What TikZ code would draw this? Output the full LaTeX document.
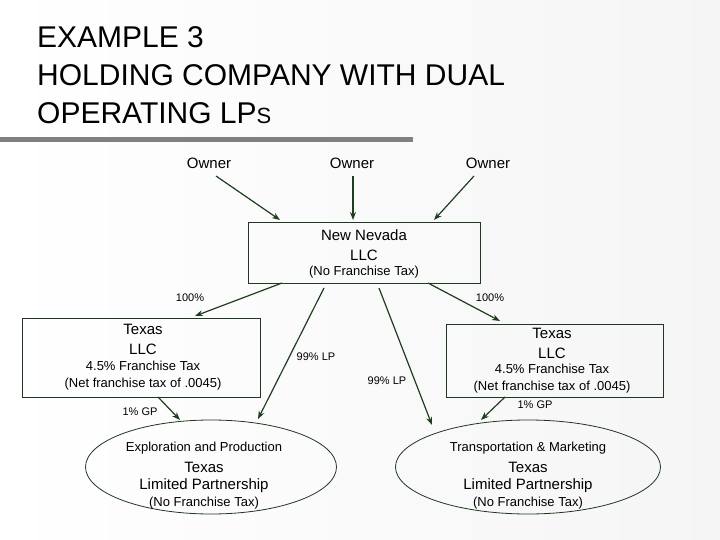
\documentclass[tikz,border=0pt]{standalone}
\usepackage{fontspec}
\setmainfont{Liberation Sans}
\usetikzlibrary{arrows.meta,shapes.geometric}
\definecolor{arr}{HTML}{1F3D1F}
\definecolor{edge}{HTML}{203820}
\begin{document}
\begin{tikzpicture}[x=1pt,y=-1pt,
  box/.style={draw=edge,line width=0.8pt,inner sep=0pt},
  ell/.style={draw=edge,line width=0.8pt,ellipse,inner sep=0pt},
  conn/.style={draw=arr,line width=1.2pt,-{Stealth[length=8pt,width=6pt]}},
  lbl/.style={font=\fontsize{11}{13}\selectfont},
  own/.style={font=\fontsize{15}{18}\selectfont},
  big/.style={font=\fontsize{15}{18}\selectfont},
  small/.style={font=\fontsize{13}{16}\selectfont}]
\shade[left color=white,right color=green!3!gray!8] (0,0) rectangle (720,540);
\useasboundingbox (0,0) rectangle (720,540);
\fill[gray] (0,137) rectangle (413,142);
\node[anchor=north west,align=left,font=\fontsize{30}{38}\selectfont,inner sep=0pt] (title) at (37,26)
 {EXAMPLE 3\\HOLDING COMPANY WITH DUAL\\OPERATING LP{\fontsize{22}{26}\selectfont S}};
\node[own] (o1) at (209,163) {Owner};
\node[own] (o2) at (352,163) {Owner};
\node[own] (o3) at (488,163) {Owner};
\node[box,minimum width=232pt,minimum height=61pt] (nv) at (364,252.5) {};
\node[align=center,font=\fontsize{15}{20}\selectfont] (nvt) at (364,245) {New Nevada\\LLC};
\node[font=\fontsize{13}{15}\selectfont] (nvs) at (364,272) {(No Franchise Tax)};
\node[box,minimum width=238pt,minimum height=79pt] (tl) at (141,357.5) {};
\node[align=center,font=\fontsize{15}{20}\selectfont] (tlt) at (143,339) {Texas\\LLC};
\node[align=center,font=\fontsize{13}{17}\selectfont] (tls) at (143,376) {4.5\% Franchise Tax\\(Net franchise tax of .0045)};
\node[box,minimum width=217pt,minimum height=73pt] (tr) at (554.5,360.5) {};
\node[align=center,font=\fontsize{15}{20}\selectfont] (trt) at (552,343) {Texas\\LLC};
\node[align=center,font=\fontsize{13}{17}\selectfont] (trs) at (552,379) {4.5\% Franchise Tax\\(Net franchise tax of .0045)};
\node[ell,minimum width=251pt,minimum height=94pt] (el) at (211,467) {};
\node[small] (el1) at (204,448) {Exploration and Production};
\node[big] (el2) at (204,467) {Texas};
\node[big] (el3) at (204,486) {Limited Partnership};
\node[small] (el4) at (204,503) {(No Franchise Tax)};
\node[ell,minimum width=265pt,minimum height=94pt] (er) at (528,467) {};
\node[small] (er1) at (528,448) {Transportation \& Marketing};
\node[big] (er2) at (528,467) {Texas};
\node[big] (er3) at (528,486) {Limited Partnership};
\node[small] (er4) at (528,503) {(No Franchise Tax)};
\coordinate (a1) at (216,176); \coordinate (b1) at (280,220);
\coordinate (a2) at (353,176); \coordinate (b2) at (353,220);
\coordinate (a3) at (474,176); \coordinate (b3) at (434,220);
\draw[conn] (a1) -- (b1);
\draw[conn] (a2) -- (b2);
\draw[conn] (a3) -- (b3);
\coordinate (c1) at (282,283); \coordinate (d1) at (195,316);
\coordinate (c2) at (428,283); \coordinate (d2) at (500,321);
\coordinate (c3) at (324,288); \coordinate (d3) at (258,419);
\coordinate (c4) at (379,288); \coordinate (d4) at (432,425);
\coordinate (c5) at (158,397); \coordinate (d5) at (180,420);
\coordinate (c6) at (505,397); \coordinate (d6) at (481,420);
\draw[conn] (c1) -- (d1);
\draw[conn] (c2) -- (d2);
\draw[conn] (c3) -- (d3);
\draw[conn] (c4) -- (d4);
\draw[conn] (c5) -- (d5);
\draw[conn] (c6) -- (d6);
\node[lbl] (l1) at (190,298) {100\%};
\node[lbl] (l2) at (490,298) {100\%};
\node[lbl] (l3) at (316,357) {99\% LP};
\node[lbl] (l4) at (387,381) {99\% LP};
\node[lbl] (l5) at (140,412) {1\% GP};
\node[lbl] (l6) at (535,405) {1\% GP};
\end{tikzpicture}
\end{document}
